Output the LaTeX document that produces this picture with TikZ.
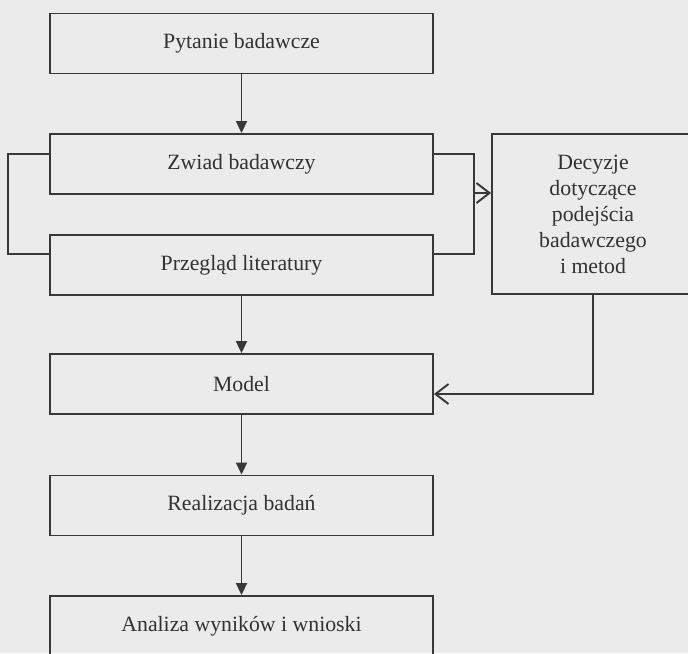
\documentclass[tikz,border=0pt]{standalone}
\usepackage{fontspec}
\setmainfont{Liberation Serif}
\usepackage{tikz}
\usetikzlibrary{positioning, calc, arrows.meta}
\usepackage{xcolor}
\definecolor{PaperGray}{HTML}{EBEBEB}
\definecolor{InkGray}{HTML}{383838}

\begin{document}
\begin{tikzpicture}[
  x=0.02cm, y=-0.02cm,
  stagebox/.style={draw=InkGray, line width=1.1pt, minimum width=7.66cm, minimum height=1.2cm,
    inner sep=0pt, text=InkGray!90!black, font=\fontsize{12.4}{14.8}\selectfont},
  sidebox/.style={stagebox, minimum width=4.04cm, minimum height=3.2cm, align=center},
  flow/.style={draw=InkGray, line width=1.1pt, -{Triangle[length=0.24cm, width=0.22cm]}},
  feed/.style={draw=InkGray, line width=1.1pt, -{Straight Barb[length=0.26cm, width=0.4cm]}},
  link/.style={draw=InkGray, line width=1.1pt},
]
  % Page
  \fill[PaperGray] (0,0) rectangle (688,653);
  \useasboundingbox (0,0) rectangle (688,653);

  % Main column
  \def\xm{241.5} % column centre
  \node[stagebox] (pytanie)    at (\xm, 43.5)  {Pytanie badawcze};
  \node[stagebox] (zwiad)      at (\xm, 164)   {Zwiad badawczy};
  \node[stagebox] (przeglad)   at (\xm, 265)   {Przegląd literatury};
  \node[stagebox] (model)      at (\xm, 384)   {Model};
  \node[stagebox] (realizacja) at (\xm, 505.5) {Realizacja badań};
  \node[stagebox] (analiza)    at (\xm, 626)   {Analiza wyników i wnioski};

  % Side box
  \node[sidebox] (decyzje) at (593, 214) {Decyzje\\dotyczące\\podejścia\\badawczego\\i metod};

  % Arrows down the column
  \draw[flow] (pytanie) -- (zwiad);
  \draw[flow] (przeglad) -- (model);
  \draw[flow] (model) -- (realizacja);
  \draw[flow] (realizacja) -- (analiza);

  % Brackets round the two boxes
  \draw[link] ([yshift=0.2cm]zwiad.west) -- ++(-41,0) |- ([yshift=0.22cm]przeglad.west);
  \draw[link] ([yshift=0.2cm]zwiad.east) -- ++(40,0) |- ([yshift=0.22cm]przeglad.east);
  \coordinate (brk) at (473,193);
  \draw[feed] (brk) -- (brk -| decyzje.west);

  % Feedback into model
  \draw[feed] (decyzje.south) |- ([yshift=-0.2cm]model.east);
\end{tikzpicture}
\end{document}
